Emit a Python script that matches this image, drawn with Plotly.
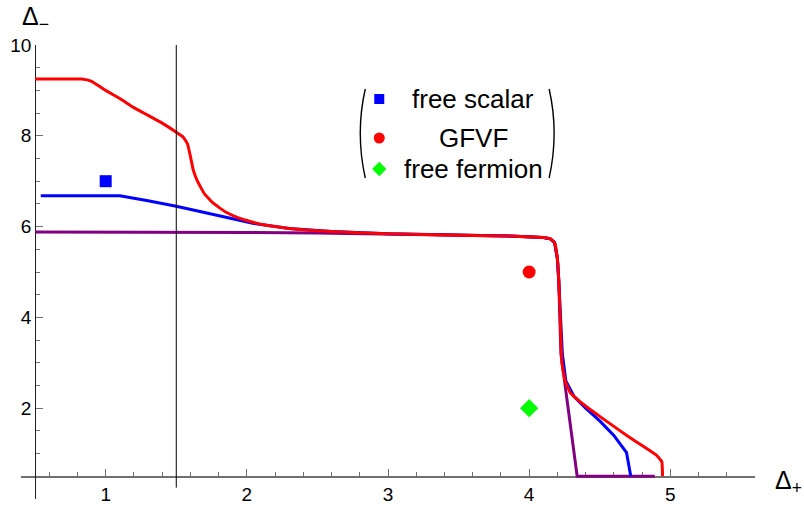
import plotly.graph_objects as go

# ---------------- data ----------------
red_x = [0.5, 0.83, 0.90, 1.0, 1.1, 1.2, 1.3, 1.4, 1.5, 1.55, 1.58, 1.60, 1.62, 1.65, 1.70, 1.76, 1.85,
         1.95, 2.1, 2.3, 2.6, 3.0, 3.5, 3.9, 4.1, 4.15, 4.18, 4.20, 4.21, 4.22, 4.232, 4.255, 4.29,
         4.34, 4.42, 4.5, 4.6, 4.7, 4.8, 4.9, 4.94, 4.945]
red_y = [9.25, 9.25, 9.20, 9.0, 8.82, 8.62, 8.45, 8.28, 8.08, 7.97, 7.82, 7.55, 7.25, 7.0, 6.72, 6.52, 6.32,
         6.18, 6.05, 5.96, 5.89, 5.84, 5.81, 5.79, 5.76, 5.73, 5.65, 5.3, 4.8, 4.0, 3.0, 2.6, 2.35,
         2.2, 2.0, 1.82, 1.6, 1.38, 1.18, 0.97, 0.82, 0.5]

blue_x = [0.54, 1.1, 1.3, 1.5, 1.7, 1.9, 2.05, 2.3, 2.6, 3.0, 3.5, 3.9, 4.1, 4.15, 4.18, 4.20, 4.21,
          4.22, 4.235, 4.26, 4.32, 4.4, 4.5, 4.6, 4.69, 4.72]
blue_y = [6.68, 6.68, 6.57, 6.45, 6.31, 6.18, 6.07, 5.96, 5.89, 5.84, 5.81, 5.79, 5.76, 5.73, 5.65, 5.3, 4.8,
          4.0, 3.2, 2.6, 2.25, 2.0, 1.72, 1.40, 1.02, 0.5]

purple_x = [0.5, 1.5, 2.0, 2.5, 3.0, 3.5, 3.9, 4.1, 4.15, 4.18, 4.20, 4.21, 4.22, 4.225, 4.34, 4.89]
purple_y = [5.88, 5.88, 5.87, 5.86, 5.84, 5.81, 5.79, 5.76, 5.73, 5.65, 5.3, 4.8, 4.0, 3.2, 0.5, 0.5]

scalar_x, scalar_y = [1.0], [7.0]
gfvf_x, gfvf_y = [4.0], [5.0]
fermion_x, fermion_y = [4.0], [2.0]

vline_x = 1.5
x_ticks = [1, 2, 3, 4, 5]
y_ticks = [0, 2, 4, 6, 8, 10]
legend_labels = ["free scalar", "GFVF", "free fermion"]

# ---------------- layout geometry ----------------
W, H = 804, 507
PL, PR, PT, PB = 20.5, 755, 45, 499   # plot area in page pixels
L = PL
T = PT
PW = PR - PL
PH = PB - PT
R = W - L - PW
B = H - T - PH
X0, X1 = 0.4, 5.6
Y0, Y1 = 0.0, 10.0
ORIGIN = (0.5, 0.5)

def paper_x(px):
    return (px - PL) / PW

def paper_y(py):
    return (PB - py) / PH

def data_x(px):
    return X0 + paper_x(px) * (X1 - X0)

def data_y(py):
    return Y0 + paper_y(py) * (Y1 - Y0)

RED = "#FF0000"
BLUE = "#0000FF"
PURPLE = "#800080"
GREEN = "#00FF00"
AXIS_GRAY = "#707070"
FONT = "Liberation Sans, Arial, sans-serif"

fig = go.Figure()

fig.add_trace(go.Scatter(x=purple_x, y=purple_y, mode="lines",
                         line=dict(color=PURPLE, width=3), hoverinfo="skip", cliponaxis=False))
fig.add_trace(go.Scatter(x=blue_x, y=blue_y, mode="lines",
                         line=dict(color=BLUE, width=3), hoverinfo="skip"))
fig.add_trace(go.Scatter(x=red_x, y=red_y, mode="lines",
                         line=dict(color=RED, width=3, shape="spline", smoothing=0.3),
                         hoverinfo="skip"))

fig.add_trace(go.Scatter(x=scalar_x, y=scalar_y, mode="markers",
                         marker=dict(symbol="square", size=12, color=BLUE)))
fig.add_trace(go.Scatter(x=gfvf_x, y=gfvf_y, mode="markers",
                         marker=dict(symbol="circle", size=13, color=RED)))
fig.add_trace(go.Scatter(x=fermion_x, y=fermion_y, mode="markers",
                         marker=dict(symbol="diamond", size=14, color=GREEN)))

# legend glyphs
leg_px = 379
leg_py = [99, 138, 169]
leg_sym = ["square", "circle", "diamond"]
leg_col = [BLUE, RED, GREEN]
leg_size = [10, 11, 11]
for py, s, c, sz in zip(leg_py, leg_sym, leg_col, leg_size):
    fig.add_trace(go.Scatter(x=[data_x(leg_px)], y=[data_y(py)], mode="markers",
                             marker=dict(symbol=s, size=sz, color=c), hoverinfo="skip",
                             cliponaxis=False))

annotations = []
for py, txt in zip(leg_py, legend_labels):
    annotations.append(dict(xref="paper", yref="paper", x=paper_x(473), y=paper_y(py),
                            text=txt, showarrow=False, xanchor="center", yanchor="middle",
                            font=dict(family=FONT, size=26, color="black")))

annotations.append(dict(xref="paper", yref="paper", x=paper_x(19), y=paper_y(18),
                        text="Δ<sub>−</sub>", showarrow=False, xanchor="left", yanchor="middle",
                        font=dict(family=FONT, size=25, color="black")))
annotations.append(dict(xref="paper", yref="paper", x=paper_x(773), y=paper_y(482),
                        text="Δ<sub>+</sub>", showarrow=False, xanchor="left", yanchor="middle",
                        font=dict(family=FONT, size=25, color="black")))

def to_path_pt(px, py):
    return f"{paper_x(px):.5f},{paper_y(py):.5f}"

shapes = [
    dict(type="line", xref="x", yref="y", x0=vline_x, x1=vline_x, y0=0.25, y1=Y1,
         line=dict(color="black", width=1)),
    dict(type="path", xref="paper", yref="paper",
         path=f"M {to_path_pt(365, 89)} Q {to_path_pt(355, 133)} {to_path_pt(365, 178)}",
         line=dict(color="black", width=1.4)),
    dict(type="path", xref="paper", yref="paper",
         path=f"M {to_path_pt(549, 89)} Q {to_path_pt(559, 133)} {to_path_pt(549, 178)}",
         line=dict(color="black", width=1.4)),
]

fig.update_layout(
    width=W, height=H,
    margin=dict(l=L, r=R, t=T, b=B, autoexpand=False),
    paper_bgcolor="white", plot_bgcolor="white",
    showlegend=False,
    hovermode=False,
    annotations=annotations,
    shapes=shapes,
    xaxis=dict(range=[X0, X1], anchor="free",
               position=(ORIGIN[1] - Y0) / (Y1 - Y0),
               layer="below traces",
               showline=True, linecolor=AXIS_GRAY, linewidth=1.5,
               ticks="inside", ticklen=7, tickcolor=AXIS_GRAY, tickwidth=1,
               tickmode="array", tickvals=x_ticks, ticktext=[str(v) for v in x_ticks],
               minor=dict(tickmode="linear", tick0=0, dtick=0.2, ticks="inside",
                          ticklen=4, tickcolor=AXIS_GRAY, showgrid=False),
               showgrid=False, zeroline=False,
               tickfont=dict(family=FONT, size=19, color="black")),
    yaxis=dict(range=[Y0, Y1], anchor="free",
               position=(ORIGIN[0] - X0) / (X1 - X0),
               layer="below traces",
               showline=True, linecolor="#202020", linewidth=1,
               ticks="inside", ticklen=7, tickcolor=AXIS_GRAY, tickwidth=1,
               tickmode="array", tickvals=y_ticks, ticktext=[str(v) for v in y_ticks],
               minor=dict(tickmode="linear", tick0=0, dtick=0.5, ticks="inside",
                          ticklen=4, tickcolor=AXIS_GRAY, showgrid=False),
               showgrid=False, zeroline=False,
               tickfont=dict(family=FONT, size=19, color="black")),
)

# remove the default 8px page margin so the figure fills the window exactly
fig.write_html("out.html", config={"displayModeBar": False, "staticPlot": True},
               post_script="document.body.style.margin='0px';")
